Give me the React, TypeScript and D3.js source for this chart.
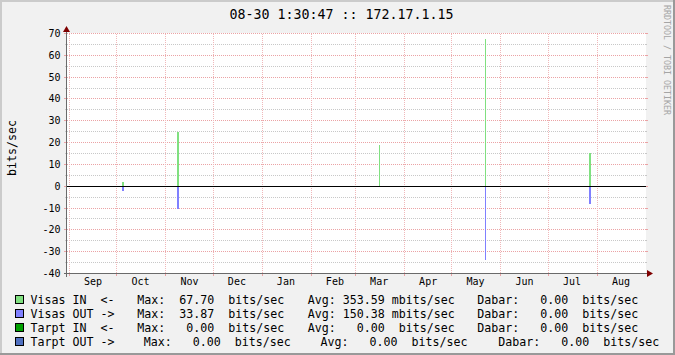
import React from 'react';
import * as d3 from 'd3';

const W = 675;
const H = 355;

// ---- data ----
const timeStart = '2022-08-30T12:00:00Z';
const timeEnd = '2023-08-31T05:00:00Z';
const spikeTimes = [
  '2022-10-04T12:00:00Z',
  '2022-11-08T06:00:00Z',
  '2023-03-15T18:00:00Z',
  '2023-05-21T18:00:00Z',
  '2023-07-27T00:00:00Z',
];
const visasIn = [1.8, 24.7, 19.1, 67.7, 15.4];
const visasOut = [2.1, 10.3, 0, 33.87, 8.3];
const tarptIn = [0, 0, 0, 0, 0];
const tarptOut = [0, 0, 0, 0, 0];

const monthLabels = ['Sep', 'Oct', 'Nov', 'Dec', 'Jan', 'Feb', 'Mar', 'Apr', 'May', 'Jun', 'Jul', 'Aug'];
const yTicks = [70, 60, 50, 40, 30, 20, 10, 0, -10, -20, -30, -40];
const yMinorTicks = [65, 55, 45, 35, 25, 15, 5, -5, -15, -25, -35];

const legendNames = ['Visas IN  <-', 'Visas OUT ->', 'Tarpt IN  <-', 'Tarpt OUT ->'];
const legendColors = ['#80E080', '#8080FF', '#00A000', '#5070C0'];
const legendMax = [67.7, 33.87, 0, 0];
const legendMaxPrefix = [' ', ' ', ' ', ' '];
const legendAvg = [353.59, 150.38, 0, 0];
const legendAvgPrefix = ['m', 'm', ' ', ' '];
const legendNow = [0, 0, 0, 0];
const legendNowPrefix = [' ', ' ', ' ', ' '];

const title = '08-30 1:30:47 :: 172.17.1.15';
const unitLabel = 'bits/sec';
const watermark = 'RRDTOOL / TOBI OETIKER';

// ---- layout ----
const X0 = 67;
const X1 = 645;
const YTOP = 33.5;
const YBOT = 273.5;
const MONO = '"DejaVu Sans Mono", monospace';
const legendColX = [
  [30.5, 137.2, 307.7, 477.2],
  [30.5, 137.2, 307.7, 477.2],
  [30.5, 137.2, 307.7, 477.2],
  [30.5, 143.8, 320.5, 498.2],
];
const legendBase = [304, 318, 332, 346];

const nb = (s: string) => s.replace(/ /g, '\u00A0');
const fmt = (v: number, p: string) => v.toFixed(2).padStart(6) + ' ' + p + 'bits/sec';

export default function App() {
  const x = d3.scaleUtc().domain([new Date(timeStart), new Date(timeEnd)]).range([X0, X1]);
  const y = d3.scaleLinear().domain([-40, 70]).range([YBOT, YTOP]);
  const py = (v: number) => Math.round(y(v) - 0.5) + 0.5;
  const months = d3.utcMonth.range(new Date(timeStart), new Date(timeEnd));
  const mxPix = (d: Date) => Math.round(x(d) - 0.5);

  const bars: any[] = [];
  spikeTimes.forEach((t, i) => {
    const d0 = new Date(t);
    const d1 = d3.utcDay.offset(d0, 1);
    const xa = Math.round(x(d0));
    const xb = Math.round(x(d1));
    const y0 = Math.round(y(0));
    const series = [
      { v: visasIn[i], c: legendColors[0] },
      { v: -visasOut[i], c: legendColors[1] },
      { v: tarptIn[i], c: legendColors[2] },
      { v: -tarptOut[i], c: legendColors[3] },
    ];
    series.forEach((s, k) => {
      if (s.v === 0) return;
      const yv = Math.round(y(s.v));
      bars.push(
        <rect key={`b${i}-${k}`} x={xa} width={Math.max(1, xb - xa)} y={Math.min(yv, y0)} height={Math.abs(y0 - yv)} fill={s.c} shapeRendering="crispEdges" />
      );
    });
  });

  const axisColor = '#6A6A6A';
  const arrowColor = '#7F0000';
  const gridColor = '#C8C8C8';
  const mgridColor = '#EBA3A5';
  const vgridColor = '#F0B8BA';

  return (
    <svg width={W} height={H} style={{ position: 'absolute', left: 0, top: 0, display: 'block' }} xmlns="http://www.w3.org/2000/svg">
      <defs>
        <pattern id="vdot" patternUnits="userSpaceOnUse" x={0} y={0} width={1} height={2}>
          <rect x={0} y={0} width={1} height={1} fill={vgridColor} />
        </pattern>
      </defs>
      <rect x={0} y={0} width={W} height={H} fill="#F1F1F1" />
      {/* frame */}
      <rect x={0} y={0} width={W} height={2} fill="#CBCBCB" />
      <rect x={0} y={0} width={2} height={H} fill="#CBCBCB" />
      <rect x={0} y={H - 2} width={W} height={2} fill="#999999" />
      <rect x={W - 2} y={0} width={2} height={H} fill="#999999" />
      {/* canvas */}
      <rect x={X0} y={YTOP - 0.5} width={X1 - X0 + 1} height={YBOT - YTOP} fill="#FFFFFF" />

      {/* minor grid */}
      {yMinorTicks.map((v) => (
        <line key={`mi${v}`} x1={X0} x2={X1 + 1} y1={py(v)} y2={py(v)} stroke={gridColor} strokeDasharray="1,1" shapeRendering="crispEdges" />
      ))}
      {yMinorTicks.map((v) => (
        <g key={`mit${v}`}>
          <line x1={X0 - 2} x2={X0} y1={py(v)} y2={py(v)} stroke={gridColor} shapeRendering="crispEdges" />
          <line x1={X1} x2={X1 + 2} y1={py(v)} y2={py(v)} stroke={gridColor} shapeRendering="crispEdges" />
        </g>
      ))}
      {/* major grid */}
      {yTicks.map((v) => (
        <line key={`ma${v}`} x1={X0} x2={X1 + 1} y1={py(v)} y2={py(v)} stroke={mgridColor} strokeDasharray="1,1" shapeRendering="crispEdges" />
      ))}
      {yTicks.map((v) => (
        <g key={`mat${v}`}>
          <line x1={X0 - 3} x2={X0} y1={py(v)} y2={py(v)} stroke={mgridColor} shapeRendering="crispEdges" />
          <line x1={X1} x2={X1 + 3} y1={py(v)} y2={py(v)} stroke={mgridColor} shapeRendering="crispEdges" />
        </g>
      ))}
      {months.map((m, i) => (
        <g key={`vm${i}`}>
          <rect x={mxPix(m)} width={1} y={YTOP - 0.5} height={YBOT - YTOP} fill="url(#vdot)" shapeRendering="crispEdges" />
          <rect x={mxPix(m)} width={1} y={YBOT - 0.5} height={3} fill={mgridColor} shapeRendering="crispEdges" />
        </g>
      ))}

      {/* data */}
      {bars}

      {/* zero line */}
      <line x1={X0} x2={X1 + 1} y1={py(0)} y2={py(0)} stroke="#000000" strokeWidth={1} shapeRendering="crispEdges" />

      {/* axes */}
      <line x1={X0 - 0.5} x2={X0 - 0.5} y1={YBOT + 3} y2={YTOP - 4} stroke={axisColor} shapeRendering="crispEdges" />
      <line x1={X0 - 3} x2={X1 + 2} y1={YBOT} y2={YBOT} stroke={axisColor} shapeRendering="crispEdges" />
      <path d={`M${X0 - 0.5},${YTOP - 7.5} L${X0 - 4},${YTOP - 1.5} L${X0 + 3},${YTOP - 1.5} Z`} fill={arrowColor} />
      <path d={`M${X1 + 8},${YBOT} L${X1 + 2},${YBOT - 3.5} L${X1 + 2},${YBOT + 3.5} Z`} fill={arrowColor} />

      {/* y labels */}
      {yTicks.map((v) => (
        <text key={`yl${v}`} x={60.5} y={py(v) + 3.5} textAnchor="end" fontFamily={MONO} fontSize={10} fill="#000">
          {String(v)}
        </text>
      ))}
      {/* x labels */}
      {months.map((m, i) => (
        <text key={`xl${i}`} x={x(d3.utcDay.offset(m, 15))} y={284.5} textAnchor="middle" fontFamily={MONO} fontSize={10} fill="#000">
          {monthLabels[i]}
        </text>
      ))}

      {/* unit label */}
      <text transform={`translate(16,148) rotate(-90)`} textAnchor="middle" fontFamily={MONO} fontSize={11.63} fill="#000">
        {unitLabel}
      </text>

      {/* title */}
      <text x={229.5} y={18.5} fontFamily={MONO} fontSize={13.29} fill="#000">
        {nb(title)}
      </text>

      {/* watermark */}
      <text transform={`translate(663.5,5) rotate(90)`} fontFamily={MONO} fontSize={8.3} fill="#A5A5A5">
        {nb(watermark)}
      </text>

      {/* legend */}
      {legendNames.map((name, i) => (
        <g key={`lg${i}`} fontFamily={MONO} fontSize={11.63} fill="#000">
          <rect x={15.5} y={legendBase[i] - 8.5} width={8} height={8} fill={legendColors[i]} stroke="#000" strokeWidth={1} shapeRendering="crispEdges" />
          <text x={legendColX[i][0]} y={legendBase[i]}>{nb(name)}</text>
          <text x={legendColX[i][1]} y={legendBase[i]}>{nb('Max: ' + fmt(legendMax[i], legendMaxPrefix[i]))}</text>
          <text x={legendColX[i][2]} y={legendBase[i]}>{nb('Avg: ' + fmt(legendAvg[i], legendAvgPrefix[i]))}</text>
          <text x={legendColX[i][3]} y={legendBase[i]}>{nb('Dabar: ' + fmt(legendNow[i], legendNowPrefix[i]))}</text>
        </g>
      ))}
    </svg>
  );
}
